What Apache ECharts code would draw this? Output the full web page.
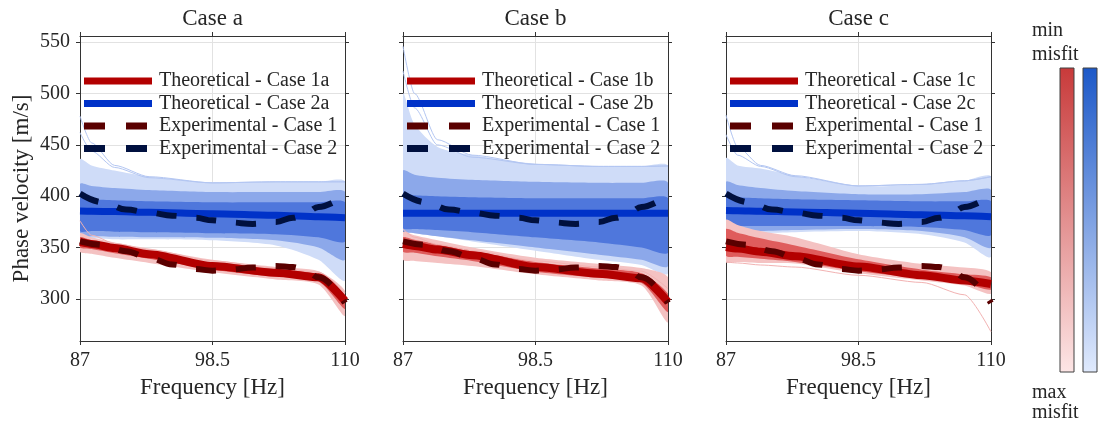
<!DOCTYPE html>
<html>
<head>
<meta charset="utf-8">
<script src="https://cdn.jsdelivr.net/npm/echarts@6/dist/echarts.min.js"></script>
<style>
  html, body { margin: 0; padding: 0; background: #fff; }
  #chart { width: 1099px; height: 424px; }
</style>
</head>
<body>
<div id="chart"></div>
<script>
// ---- data ----
const X = [87, 88, 90, 93, 98.5, 104, 107.7, 110];
const X_TICKS = [87, 98.5, 110];
const Y_TICKS = [300, 350, 400, 450, 500, 550];

// experimental curves (same in every panel)
const EXP_X = [87, 89, 91, 93, 95, 97, 98.5, 100, 102, 104, 105.5, 106.5, 107.7, 110];
const EXP1 = [356, 352.5, 346.5, 340, 333.5, 329, 327.5, 328.5, 330.5, 332, 331, 328.5, 321, 296];
const EXP2 = [402.5, 394, 387, 384, 381, 379, 376.5, 374.5, 373, 375, 379, 383, 389.5, 401];

// case a
const A_BLUE = [385.5, 385.3, 385, 384.3, 383, 381.5, 380, 379];
const A_BLUE_OUT_HI = [436, 430, 425, 419, 413, 414, 414, 414];
const A_BLUE_OUT_LO = [359, 359, 358, 358, 357, 352, 338, 318];
const A_BLUE_MID_HI = [412, 410, 408, 406, 404, 404, 404, 404];
const A_BLUE_MID_LO = [361, 361, 360.5, 360, 359.5, 357, 350, 338];
const A_BLUE_IN_HI = [398, 397, 396, 395, 394, 394, 394, 394];
const A_BLUE_IN_LO = [366, 366, 365.5, 365, 364, 363, 360, 356];
const A_BLUE_W1 = [478, 452, 430, 419, 413, 414, 414, 414];
const A_BLUE_W2 = [462, 444, 428, 418, 413, 414, 414, 414];
const A_RED = [355.5, 353.5, 349.5, 343.5, 332, 325.5, 321, 298];
const A_RED_OUT_HI = [364, 360, 355, 349, 338, 331, 327, 308];
const A_RED_OUT_LO = [346, 344, 340, 335, 326, 319, 314, 283];
const A_RED_MID_HI = [360, 357, 352.5, 346.5, 335, 328.5, 324, 303];
const A_RED_MID_LO = [350, 348.5, 344.5, 339, 328.5, 321.5, 317, 290];
const A_RED_W1 = [376, 362, 354, 348, 337, 330, 326, 306];

// case b
const B_BLUE = [383.5, 383.5, 383.5, 383.5, 383.5, 383.5, 383.5, 383.5];
const B_BLUE_OUT_HI = [500, 470, 448, 440, 431.5, 429, 429, 429.5];
const B_BLUE_OUT_LO = [367, 364, 361, 356, 347, 338, 333, 325];
const B_BLUE_MID_HI = [425, 421, 418, 416, 414, 413, 413, 413];
const B_BLUE_MID_LO = [366, 364, 361, 357, 350, 343, 338, 332];
const B_BLUE_IN_HI = [402, 401, 400, 399, 398, 398, 398, 398];
const B_BLUE_IN_LO = [369, 368, 367, 365, 360, 355, 350, 345];
const B_BLUE_W1 = [546, 500, 455, 440, 431, 429, 429, 429.5];
const B_BLUE_W2 = [522, 486, 450, 438, 431, 429, 429, 429.5];
const B_RED = [353.5, 351.5, 348, 342.5, 331, 324.5, 320, 297];
const B_RED_OUT_HI = [365, 362, 357, 350, 340, 334, 330, 321];
const B_RED_OUT_LO = [338, 337, 335, 332, 324, 318, 313, 277];
const B_RED_MID_HI = [360, 357.5, 353, 347, 336, 329.5, 325, 305];
const B_RED_MID_LO = [346, 345, 341.5, 337, 326.5, 320.5, 315.5, 287];
const B_RED_W1 = [368, 360, 353, 347, 337, 331, 327, 310];

// case c
const C_BLUE = [386, 385.8, 385.3, 384.7, 383.5, 382, 381, 380];
const C_BLUE_OUT_HI = [437, 430, 427, 420, 410, 411.5, 415, 419];
const C_BLUE_OUT_LO = [365, 363, 364, 365, 366, 363, 355, 341];
const C_BLUE_MID_HI = [414, 411, 408, 405, 402, 402, 404, 406];
const C_BLUE_MID_LO = [367, 366, 366, 367, 368, 366, 360, 350];
const C_BLUE_IN_HI = [400, 399, 398, 397, 396, 395, 395, 395];
const C_BLUE_IN_LO = [371, 371, 371, 371, 371, 370, 367, 362];
const C_BLUE_W1 = [479, 448, 430, 420, 410, 411.5, 415, 419];
const C_BLUE_W2 = [460, 440, 429, 419, 410, 411.5, 415, 419];
const C_RED = [350.5, 349, 346, 341.5, 331.5, 323, 318, 314.5];
const C_RED_OUT_HI = [377, 372, 366, 360, 343.5, 334, 330.5, 326];
const C_RED_OUT_LO = [336, 336, 335, 334.5, 325, 318, 313, 305];
const C_RED_MID_HI = [368, 364.5, 359, 352, 338.5, 328.5, 324, 321];
const C_RED_MID_LO = [342, 341, 339, 336, 327, 320, 315, 309];
const C_RED_W1 = [336, 335, 333, 331, 323, 316, 304, 268];

const PANELS = [
  { tag: 'a', left: 80, blue: A_BLUE, bOutHi: A_BLUE_OUT_HI, bOutLo: A_BLUE_OUT_LO, bMidHi: A_BLUE_MID_HI, bMidLo: A_BLUE_MID_LO,
    bInHi: A_BLUE_IN_HI, bInLo: A_BLUE_IN_LO, bW: [A_BLUE_W1, A_BLUE_W2],
    red: A_RED, rOutHi: A_RED_OUT_HI, rOutLo: A_RED_OUT_LO, rMidHi: A_RED_MID_HI, rMidLo: A_RED_MID_LO, rW: [A_RED_W1] },
  { tag: 'b', left: 403, blue: B_BLUE, bOutHi: B_BLUE_OUT_HI, bOutLo: B_BLUE_OUT_LO, bMidHi: B_BLUE_MID_HI, bMidLo: B_BLUE_MID_LO,
    bInHi: B_BLUE_IN_HI, bInLo: B_BLUE_IN_LO, bW: [B_BLUE_W1, B_BLUE_W2],
    red: B_RED, rOutHi: B_RED_OUT_HI, rOutLo: B_RED_OUT_LO, rMidHi: B_RED_MID_HI, rMidLo: B_RED_MID_LO, rW: [B_RED_W1] },
  { tag: 'c', left: 726, blue: C_BLUE, bOutHi: C_BLUE_OUT_HI, bOutLo: C_BLUE_OUT_LO, bMidHi: C_BLUE_MID_HI, bMidLo: C_BLUE_MID_LO,
    bInHi: C_BLUE_IN_HI, bInLo: C_BLUE_IN_LO, bW: [C_BLUE_W1, C_BLUE_W2],
    red: C_RED, rOutHi: C_RED_OUT_HI, rOutLo: C_RED_OUT_LO, rMidHi: C_RED_MID_HI, rMidLo: C_RED_MID_LO, rW: [C_RED_W1] }
];

// ---- styling ----
const FONT = 'Liberation Serif';
const INK = '#262626';
const AXIS_C = '#333333';
const GRID_C = '#e2e2e2';
const GRID_TOP = 36, GRID_W = 265, GRID_H = 305;
const Y_MIN = 259, Y_MAX = 556;
// legend samples: a thick bar, and two dashes (the last zero-length bit keeps the box 68 wide)
const ICON_SOLID = 'path://M0,0H68V7H0Z';
const ICON_DASH = 'path://M0,0H21V7H0ZM42,0H63V7H42ZM68,0L68,7';

const pts = (xs, ys) => xs.map((x, i) => [x, ys[i]]);

// filled band between two curves, drawn as one polygon through the axis scales
function band(k, lo, hi, color) {
  return {
    type: 'custom', xAxisIndex: 2 * k, yAxisIndex: 2 * k, silent: true, clip: true, z: 1,
    data: [[X[0], lo[0]]],
    renderItem: (params, api) => {
      const top = X.map((x, i) => api.coord([x, hi[i]]));
      const bot = X.map((x, i) => api.coord([x, lo[i]])).reverse();
      return { type: 'polygon', shape: { points: top.concat(bot), smooth: 0.25 }, style: { fill: color } };
    }
  };
}

function line(k, name, xs, ys, color, width, extra) {
  return Object.assign({
    type: 'line', name, xAxisIndex: 2 * k, yAxisIndex: 2 * k, data: pts(xs, ys),
    symbol: 'none', smooth: 0.25, smoothMonotone: 'x', silent: true, clip: true, z: 3,
    lineStyle: { color, width, cap: 'butt' }, itemStyle: { color }, emphasis: { disabled: true }
  }, extra || {});
}

const grids = [], xAxes = [], yAxes = [], series = [], legends = [], graphics = [];

PANELS.forEach((p, k) => {
  grids.push({ left: p.left, top: GRID_TOP, width: GRID_W, height: GRID_H });
  const axLine = { show: true, onZero: false, lineStyle: { color: AXIS_C, width: 1 } };
  const tick = { show: true, inside: false, length: 4, lineStyle: { color: AXIS_C, width: 1 } };
  xAxes.push({
    gridIndex: k, type: 'value', min: 87, max: 110, interval: 11.5, position: 'bottom',
    axisLine: axLine, axisTick: tick,
    axisLabel: { color: INK, fontFamily: FONT, fontSize: 20, margin: 10, customValues: X_TICKS },
    splitLine: { show: true, lineStyle: { color: GRID_C, width: 1 } },
    name: 'Frequency [Hz]', nameLocation: 'middle', nameGap: 35,
    nameTextStyle: { color: INK, fontFamily: FONT, fontSize: 23 }
  });
  xAxes.push({
    gridIndex: k, type: 'value', min: 87, max: 110, interval: 11.5, position: 'top',
    axisLine: axLine, axisTick: tick, axisLabel: { show: false }, splitLine: { show: false }
  });
  yAxes.push({
    gridIndex: k, type: 'value', min: Y_MIN, max: Y_MAX, position: 'left',
    axisLine: axLine, axisTick: Object.assign({ customValues: Y_TICKS }, tick),
    axisLabel: { show: k === 0, customValues: Y_TICKS, color: INK, fontFamily: FONT, fontSize: 20, margin: 10 },
    splitLine: { show: true, lineStyle: { color: GRID_C, width: 1 } },
    name: k === 0 ? 'Phase velocity [m/s]' : '', nameLocation: 'middle', nameGap: 47,
    nameTextStyle: { color: INK, fontFamily: FONT, fontSize: 23 }
  });
  yAxes.push({
    gridIndex: k, type: 'value', min: Y_MIN, max: Y_MAX, position: 'right',
    axisLine: axLine, axisTick: Object.assign({ customValues: Y_TICKS }, tick),
    axisLabel: { show: false, customValues: Y_TICKS }, splitLine: { show: false }
  });

  // blue ensemble
  series.push(band(k, p.bOutLo, p.bOutHi, '#cfdcf8'));
  p.bW.forEach(w => series.push(line(k, 'wb' + k, X, w, '#b3c6f2', 1, { z: 1 })));
  series.push(band(k, p.bMidLo, p.bMidHi, '#8ca8ea'));
  series.push(band(k, p.bInLo, p.bInHi, '#4f77dc'));
  // red ensemble
  series.push(band(k, p.rOutLo, p.rOutHi, '#f4c2c2'));
  p.rW.forEach(w => series.push(line(k, 'wr' + k, X, w, '#f2b2b2', 1, { z: 1 })));
  series.push(band(k, p.rMidLo, p.rMidHi, '#df5c5c'));

  const n1 = 'Theoretical - Case 1' + p.tag, n2 = 'Theoretical - Case 2' + p.tag;
  series.push(line(k, n2, X, p.blue, '#0032c8', 7));
  series.push(line(k, n1, X, p.red, '#b30000', 8));
  series.push(line(k, 'Experimental - Case 1', EXP_X, EXP1, '#5a0000', 6,
    { smooth: 0.4, lineStyle: { color: '#5a0000', width: 6, type: [20, 20], cap: 'butt' } }));
  series.push(line(k, 'Experimental - Case 2', EXP_X, EXP2, '#00103f', 6,
    { smooth: 0.4, lineStyle: { color: '#00103f', width: 6, type: [20, 20], cap: 'butt' } }));

  legends.push({
    left: p.left + 4, top: 71, orient: 'vertical', padding: 0, itemGap: 2.5,
    itemWidth: 68, itemHeight: 7, selectedMode: false,
    itemStyle: { borderWidth: 0 },
    data: [
      { name: n1, icon: ICON_SOLID },
      { name: n2, icon: ICON_SOLID },
      { name: 'Experimental - Case 1', icon: ICON_DASH },
      { name: 'Experimental - Case 2', icon: ICON_DASH }
    ],
    textStyle: { color: INK, fontFamily: FONT, fontSize: 20, padding: [0, 0, 0, 2] }
  });

  graphics.push({
    type: 'text', x: p.left + GRID_W / 2, y: 19,
    style: { text: 'Case ' + p.tag, fill: INK, font: '23px "' + FONT + '"', textAlign: 'center', textVerticalAlign: 'middle' }
  });
});

// misfit colour bars
const bar = (x, c0, c1) => ({
  type: 'rect', shape: { x: x, y: 68, width: 14, height: 304 },
  style: {
    fill: { type: 'linear', x: 0, y: 0, x2: 0, y2: 1, colorStops: [{ offset: 0, color: c0 }, { offset: 1, color: c1 }] },
    stroke: '#404040', lineWidth: 1
  }
});
graphics.push(bar(1060, '#c83a3a', '#fde6e6'));
graphics.push(bar(1083, '#1c58c8', '#e0eafd'));
[['min', 31], ['misfit', 55], ['max', 393], ['misfit', 413]].forEach(([t, y]) => {
  graphics.push({ type: 'text', x: 1032, y, style: { text: t, fill: INK, font: '20px "' + FONT + '"', textAlign: 'left', textVerticalAlign: 'middle' } });
});

const chart = echarts.init(document.getElementById('chart'), null, { renderer: 'canvas' });
chart.setOption({
  animation: false,
  backgroundColor: '#ffffff',
  grid: grids,
  xAxis: xAxes,
  yAxis: yAxes,
  legend: legends,
  series: series,
  graphic: graphics
});
</script>
</body>
</html>
